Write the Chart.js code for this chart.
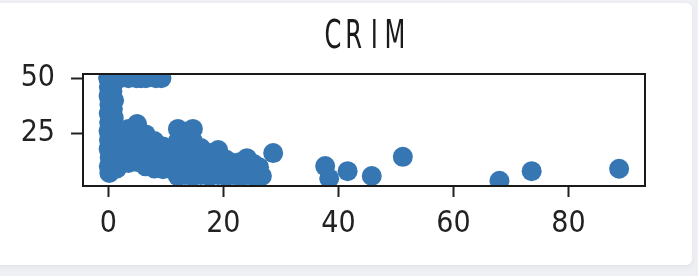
<!DOCTYPE html>
<html>
<head>
<meta charset="utf-8">
<script src="https://cdn.jsdelivr.net/npm/chart.js@4/dist/chart.umd.min.js"></script>
<style>
  html, body { margin: 0; padding: 0; background: #eef0f3; }
  #card {
    position: absolute; left: -8px; top: 3px; width: 700px; height: 262px;
    background: #fff; border-radius: 6px;
    box-shadow: 0 2px 6px rgba(0, 0, 0, 0.06);
  }
  #wrap { position: absolute; left: 0; top: 0; width: 698px; height: 276px; filter: blur(0.5px); }
</style>
</head>
<body>
<div id="card"></div>
<div id="wrap"><canvas id="myChart" width="698" height="276"></canvas></div>
<script>
// CRIM (x) against MEDV (y)
const title = 'CRIM'
const crim = [
  // column near zero
  0.03, 0.1, 0.05, 0.2, 0.08, 0.15, 0.04, 0.12, 0.06, 0.25, 0.09, 0.18,
  0.9, 0.7, 1.0, 0.8, 0.95, 0.6, 1.1, 0.75, 0.85, 1.0, 0.65,
  1.5, 1.5, 1.5, 1.5, 1.5,
  // row at 50
  0.01, 0.06, 0.53, 0.58, 1.27, 1.46, 1.52, 1.83, 2.01, 3.5, 4.9, 5.67, 6.54, 8.27, 9.23,
  // main cloud
  2, 2, 2, 2, 2,
  3.5, 3.5, 3.5, 3.5, 3.5,
  5, 5, 5, 5, 5,
  6.5, 6.5, 6.5, 6.5, 6.5,
  8, 8, 8, 8,
  9.5, 9.5, 9.5, 9.5,
  10.8, 10.8, 10.8,
  12.1, 12.1, 12.1, 12.1, 12.1, 12.1,
  13.4, 13.4, 13.4, 13.4, 13.4, 13.4,
  14.7, 14.7, 14.7, 14.7, 14.7, 14.7,
  16.1, 16.1, 16.1, 16.1,
  17.6, 17.6, 17.6, 17.6,
  19.1, 19.1, 19.1, 19.1,
  20.5, 20.5, 20.5,
  21.8, 21.8, 21.8,
  23, 23, 23,
  24.1, 24.1, 24.1,
  25.3, 25.3, 25.3,
  26.2, 26.2, 26.7,
  // outliers
  28.66, 37.7, 38.4, 41.6, 45.8, 51.2, 68.0, 73.6, 88.8
]
const medv = [
  50, 46, 42, 38, 34, 30, 26, 22, 18, 14, 10, 7,
  48, 44, 40, 36, 32, 28, 24, 20, 16, 12, 8.5,
  9, 13, 17, 21, 25,
  50, 50, 50, 50, 50, 50, 50, 50, 50, 50, 50, 50, 50, 50, 50,
  11.5, 15.5, 19.5, 23, 25.5,
  11.5, 15.5, 19.5, 23.5, 27,
  12, 16, 20, 24.5, 29.2,
  10, 14, 18, 22, 24.5,
  9, 13, 17, 21.5,
  8.7, 12.5, 16.5, 19,
  8.8, 12.5, 17,
  5.5, 9.5, 13.5, 17.5, 21.5, 27,
  6, 10, 14, 18, 22.5, 25.5,
  5.5, 9.5, 13.5, 17.5, 21.5, 27,
  6, 10, 14, 18.3,
  5.5, 9.5, 13, 16,
  6, 10, 13.5, 17.4,
  5.5, 9, 13,
  6, 9.5, 11.5,
  5.5, 8.5, 12,
  6, 10, 13.7,
  5.5, 8.5, 11,
  6.5, 9.6, 5.6,
  16.0, 10.1, 4.5, 7.8, 5.6, 14.3, 3.4, 7.8, 8.9
]
const xTicks = [0, 20, 40, 60, 80]
const yTicks = [25, 50]

const tickFont = { family: "'Liberation Sans Narrow', 'DejaVu Sans Condensed', 'Liberation Sans', sans-serif", size: 30 }

// frame around the plot + the title
const framePlugin = {
  id: 'frame',
  afterDatasetsDraw(chart){
    const a = chart.chartArea
    const ctx = chart.ctx
    ctx.save()
    ctx.strokeStyle = '#1a1a1a'
    ctx.lineWidth = 2
    ctx.strokeRect(a.left, a.top, a.right - a.left, a.bottom - a.top)
    // title, letters on a fixed step like the original font
    ctx.fillStyle = '#1a1a1a'
    ctx.font = "39px 'DejaVu Sans', sans-serif"
    ctx.textAlign = 'center'
    ctx.textBaseline = 'alphabetic'
    const step = 20.7
    const cx = (a.left + a.right) / 2
    for(let i = 0; i < title.length; i++){
      const x = cx + (i - (title.length - 1) / 2) * step
      ctx.save()
      ctx.translate(x, 48)
      ctx.scale(0.62, 1)
      ctx.fillText(title[i], 0, 0)
      ctx.restore()
    }
    ctx.restore()
  }
}

let ctx = document.getElementById('myChart').getContext('2d')
let chart = new Chart(ctx, {
  type: 'scatter',
  data: {
    datasets: [{
      data: crim.map((x, i) => ({ x: x, y: medv[i] })),
      backgroundColor: '#3677b3',
      borderWidth: 0,
      pointRadius: 10,
      pointHoverRadius: 10,
      clip: 0
    }]
  },
  options: {
    responsive: false,
    animation: false,
    events: [],
    layout: { padding: { left: 0, top: 74, right: 53, bottom: 0 } },
    plugins: { legend: { display: false }, tooltip: { enabled: false } },
    scales: {
      x: {
        type: 'linear',
        min: -4.4,
        max: 93.3,
        afterBuildTicks: s => { s.ticks = xTicks.map(v => ({ value: v })) },
        afterFit: s => { s.height = 90 },
        grid: { drawOnChartArea: false, drawTicks: true, tickLength: 11, tickWidth: 2, tickColor: '#222' },
        border: { display: false },
        ticks: { font: tickFont, color: '#222', padding: 9, maxRotation: 0 }
      },
      y: {
        type: 'linear',
        min: 1.05,
        max: 51.95,
        afterBuildTicks: s => { s.ticks = yTicks.map(v => ({ value: v })) },
        afterFit: s => { s.width = 83 },
        grid: { drawOnChartArea: false, drawTicks: true, tickLength: 12, tickWidth: 2, tickColor: '#222' },
        border: { display: false },
        ticks: { font: tickFont, color: '#222', padding: 16 }
      }
    }
  },
  plugins: [framePlugin]
})
</script>
</body>
</html>
